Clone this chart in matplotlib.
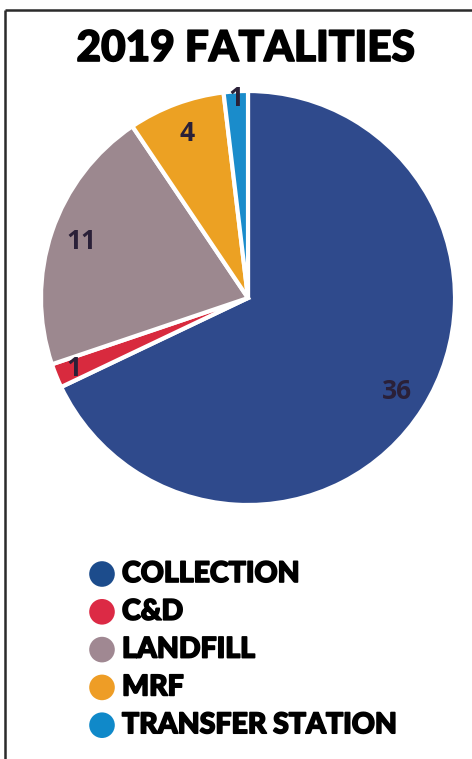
import numpy as np
import matplotlib.pyplot as plt
import matplotlib.patheffects as pe

categories = ["COLLECTION", "C&D", "LANDFILL", "MRF", "TRANSFER STATION"]
values = [36, 1, 11, 4, 1]
pie_colors = ["#2f4a8c", "#d82a3e", "#9c888f", "#eca123", "#1a8ccb"]
legend_colors = ["#1c4c8c", "#dc2a45", "#a08892", "#ee9d26", "#1089c9"]
label_dist = [0.85, 0.91, 0.85, 0.85, 0.965]

W, H = 472, 759
fig = plt.figure(figsize=(W / 100, H / 100), dpi=100)
ax = fig.add_axes([0, 0, 1, 1])

# frame (left + top edges visible)
ax.plot([5, 5], [0, H - 10], color="#2b2b2b", lw=1.8, solid_capstyle="butt")
ax.plot([5, W], [H - 10, H - 10], color="#2b2b2b", lw=1.8, solid_capstyle="butt")

heavy = [pe.withStroke(linewidth=1.2, foreground="black")]

ax.text(246, H - 49, "2019 FATALITIES", ha="center", va="center",
        fontsize=30.5, fontfamily="Lato", fontweight="black", color="black",
        path_effects=heavy)

cx, cy, r = 248, H - 298, 207
wedges, _ = ax.pie(values, colors=pie_colors, startangle=90, counterclock=False,
                   center=(cx, cy), radius=r, frame=True,
                   wedgeprops=dict(edgecolor="white", linewidth=3))
ax.set_xlim(0, W)
ax.set_ylim(0, H)
ax.axis("off")

for w, v, d in zip(wedges, values, label_dist):
    ang = np.deg2rad((w.theta1 + w.theta2) / 2)
    ax.text(cx + d * r * np.cos(ang), cy + d * r * np.sin(ang), str(v),
            ha="center", va="center", fontsize=19, fontfamily="Open Sans",
            fontweight="bold", color="#2a2038")

# legend
for i, (name, c) in enumerate(zip(categories, legend_colors)):
    y = H - (574 + i * 37.8)
    ax.scatter([102], [y], s=340, color=c, edgecolors="none")
    ax.text(122, y, name, ha="left", va="center", fontsize=20.5,
            fontfamily="Lato", fontweight="black", color="black",
            path_effects=heavy)

fig.savefig("out.png", dpi=100)
